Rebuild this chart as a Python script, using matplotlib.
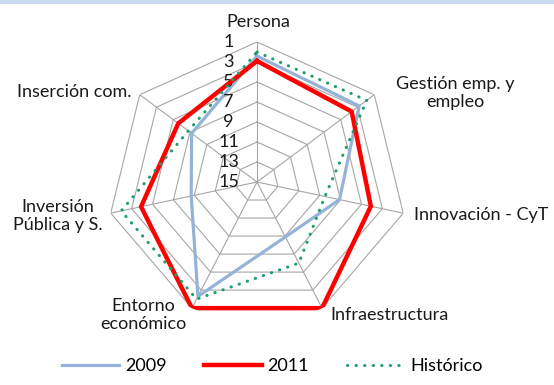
import numpy as np
import matplotlib.pyplot as plt
from matplotlib.patches import Rectangle

plt.rcParams['font.family'] = ['Lato', 'DejaVu Sans']

categories = ['Persona', 'Gestión emp. y\nempleo', 'Innovación - CyT', 'Infraestructura',
              'Entorno\neconómico', 'Inversión\nPública y S.', 'Inserción com.']
rank_2009 = [2.4, 2.8, 7.1, 8.9, 2.3, 8.7, 7.2]
rank_2011 = [2.9, 3.7, 4.1, 1.0, 1.0, 3.9, 5.6]
rank_hist = [2.0, 1.9, 8.5, 6.0, 2.0, 2.0, 6.8]
ring_values = [1, 3, 5, 7, 9, 11, 13, 15]

W, H = 554, 385
fig = plt.figure(figsize=(W / 100, H / 100), dpi=100)
fig.patches.append(Rectangle((0, 1 - 4 / H), 1, 4 / H, transform=fig.transFigure,
                             facecolor='#C9DAF0', edgecolor='none'))

cx, cy, rx, ry = 257, 182, 150, 140
ax = fig.add_axes([(cx - rx) / W, (H - cy - ry) / H, 2 * rx / W, 2 * ry / H],
                  projection='polar')
ax.set_aspect('auto')
ax.set_theta_zero_location('N')
ax.set_theta_direction(-1)
ax.set_ylim(15, 1)
ax.grid(False)
ax.spines['polar'].set_visible(False)
ax.set_xticks([])
ax.set_yticks([])
ax.patch.set_alpha(0)

n = len(categories)
theta = np.arange(n) * 2 * np.pi / n
closed = np.append(theta, theta[0])

grid_col = '#A6A6A6'
for r in ring_values[:-1]:
    ax.plot(closed, [r] * (n + 1), color=grid_col, lw=0.8, zorder=1)
for t in theta:
    ax.plot([t, t], [15, 1], color=grid_col, lw=0.8, zorder=1)

def close(vals):
    return vals + vals[:1]

l09, = ax.plot(closed, close(rank_2009), color='#95B3D7', lw=2.3, zorder=3)
l11, = ax.plot(closed, close(rank_2011), color='#FF0000', lw=3.2, zorder=4)
lh, = ax.plot(closed, close(rank_hist), color='#1E9E6C', lw=2.2,
              linestyle=(0, (0.1, 2.7)), dash_capstyle='round', zorder=5)

txt = '#1A1A1A'
fs = 13
for r in ring_values:
    ax.annotate(str(r), xy=(0, r), xytext=(-20.5, 0), textcoords='offset points',
                ha='center', va='center', fontsize=fs, color=txt)

# category labels around the outer ring
label_pos = [(258, 22), (455, 93), (481, 215), (389, 315),
             (143, 315), (58, 216), (74, 92)]
for name, (x, y) in zip(categories, label_pos):
    fig.text(x / W, 1 - y / H, name, ha='center', va='center', fontsize=fs,
             color=txt, linespacing=1.15)

fig.legend([l09, l11, lh], ['2009', '2011', 'Histórico'], ncol=3,
           loc='center', bbox_to_anchor=(272 / W, 1 - 366 / H), frameon=False,
           fontsize=fs, handlelength=3.2, handletextpad=0.3, columnspacing=2.1)

fig.savefig('out.png', dpi=100)
